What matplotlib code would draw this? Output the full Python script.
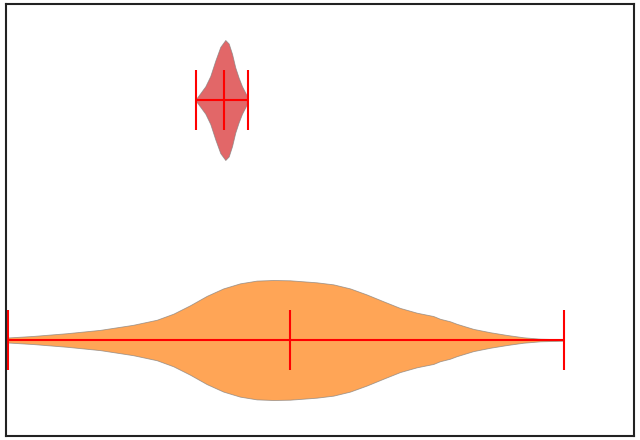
import matplotlib
matplotlib.use("Agg")
import matplotlib.pyplot as plt

# shape of each violin: position along x, half-width (relative)
orange_x = [0.32, 4.3, 9.67, 14.97, 20.22, 24.0, 26.64, 29.3, 31.96, 34.6, 37.26,
            39.92, 42.56, 45.22, 49.48, 52.12, 54.78, 57.44, 60.08, 62.74, 65.4,
            68.04, 69.1, 70.7, 71.77, 74.41, 77.07, 79.73, 82.37, 85.03, 88.85]
orange_w = [2.5, 4, 6.7, 10, 15, 20, 26, 34.3, 43.6, 51, 56,
            58.7, 59.3, 59, 57, 55, 51, 45, 38.3, 31.7, 27,
            23.7, 21, 18.5, 16, 11, 7.7, 5, 2.7, 1.3, 0.7]
orange_mean = 45.2

red_x = [30.25, 30.94, 31.74, 32.53, 33.33, 34.12, 34.92, 35.46, 35.99,
         36.51, 37.05, 37.58, 38.14, 38.54]
red_w = [1, 6.7, 13.4, 23.4, 38.4, 51.7, 58.4, 55, 45,
         31.7, 21.7, 13.4, 6.7, 1.5]
red_mean = 34.7

stats = []
for xs, ws, m in [(orange_x, orange_w, orange_mean), (red_x, red_w, red_mean)]:
    stats.append({"coords": xs, "vals": ws, "mean": m, "median": m,
                  "min": xs[0], "max": xs[-1]})

fig, ax = plt.subplots(figsize=(6.4, 4.4), dpi=100)
fig.subplots_adjust(left=6/640, right=634/640, bottom=4/440, top=436/440)

parts = ax.violin(stats, positions=[1, 2], orientation="horizontal", widths=0.5,
                  showmeans=True, showextrema=True, showmedians=False)
for body, col in zip(parts["bodies"], ["C1", "C3"]):
    body.set_facecolor(col)
    body.set_edgecolor("#7f7f7f")
    body.set_linewidth(0.6)
    body.set_alpha(0.7)
for key in ["cmeans", "cmins", "cmaxes", "cbars"]:
    parts[key].set_color("red")
    parts[key].set_linewidth(1.5)

ax.set_xlim(0, 100)
ax.set_ylim(0.6, 2.4)
ax.set_xticks([])
ax.set_yticks([])
for sp in ax.spines.values():
    sp.set_color("#222222")
    sp.set_linewidth(1.5)

plt.savefig("out.png")
